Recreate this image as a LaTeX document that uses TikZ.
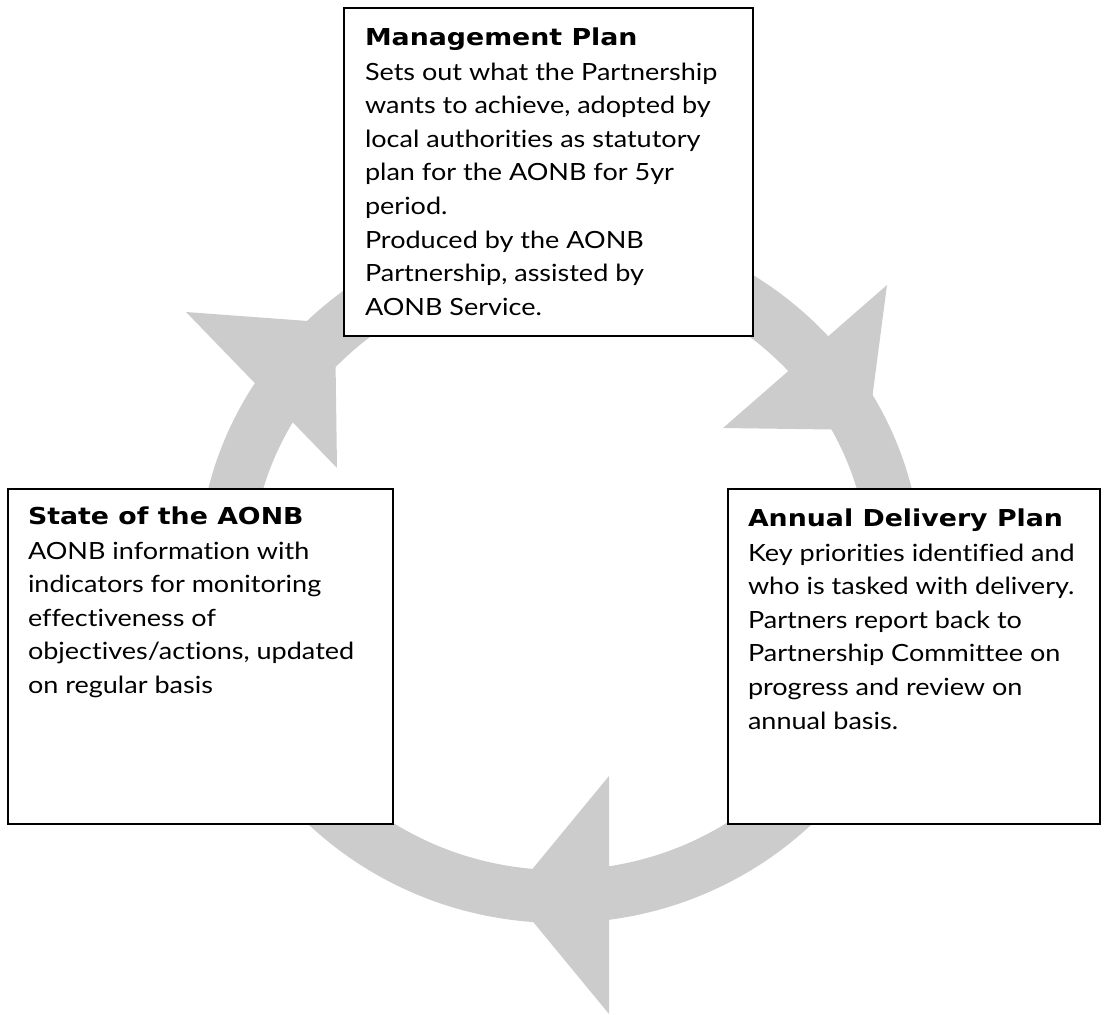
\documentclass[tikz,border=0pt]{standalone}
\usepackage{fontspec}
\setmainfont{Lato}[FakeStretch=1.14, Ligatures=NoCommon]
\newfontfamily\headfamily{DejaVu Sans}[FakeStretch=1.15]
\definecolor{ringgray}{HTML}{CCCCCC}
\newcommand{\hd}[1]{{\headfamily\bfseries\fontsize{23.3}{33.6}\selectfont #1}}
\tikzset{
  box/.style={draw=black, line width=2pt, fill=white, anchor=north west, inner sep=0pt, outer sep=0pt},
  txt/.style={anchor=base west, inner sep=0pt, outer sep=0pt, font=\fontsize{23.7}{33.6}\selectfont},
  ring/.style={fill=ringgray}
}
\begin{document}
\begin{tikzpicture}[x=1pt,y=-1pt]
\useasboundingbox (0,0) rectangle (1104,1015);
% ring
\fill[ring, even odd rule] (560,572) ellipse [x radius=362pt, y radius=351pt]
                           (560,572) ellipse [x radius=309pt, y radius=298pt];
% arrowheads
\fill[ring] (186,312) -- (337,468) -- (335,323) -- cycle;
\fill[ring] (887,285) -- (723,428) -- (868,430) -- cycle;
\fill[ring] (609,776) -- (609,1014) -- (511,895) -- cycle;
% boxes
\node[box, minimum width=409pt, minimum height=328pt] (mp) at (344,8) {};
\node[box, minimum width=385pt, minimum height=335pt] (st) at (8,489) {};
\node[box, minimum width=372pt, minimum height=335pt] (ad) at (728,489) {};
% texts
\node[txt] (mpt) at (365,45) {\begin{tabular}[t]{@{}l@{}}
\hd{Management Plan}\\[1.4pt]
Sets out what the Partnership\\
wants to achieve, adopted by\\
local authorities as statutory\\
plan for the AONB for 5yr\\
period.\\
Produced by the AONB\\
Partnership, assisted by\\
AONB Service.
\end{tabular}};
\node[txt] (stt) at (28,524) {\begin{tabular}[t]{@{}l@{}}
\hd{State of the AONB}\\[1.4pt]
AONB information with\\
indicators for monitoring\\
effectiveness of\\
objectives/actions, updated\\
on regular basis
\end{tabular}};
\node[txt] (adt) at (748,526) {\begin{tabular}[t]{@{}l@{}}
\hd{Annual Delivery Plan}\\[1.4pt]
Key priorities identified and\\
who is tasked with delivery.\\
Partners report back to\\
Partnership Committee on\\
progress and review on\\
annual basis.
\end{tabular}};
\end{tikzpicture}
\end{document}
